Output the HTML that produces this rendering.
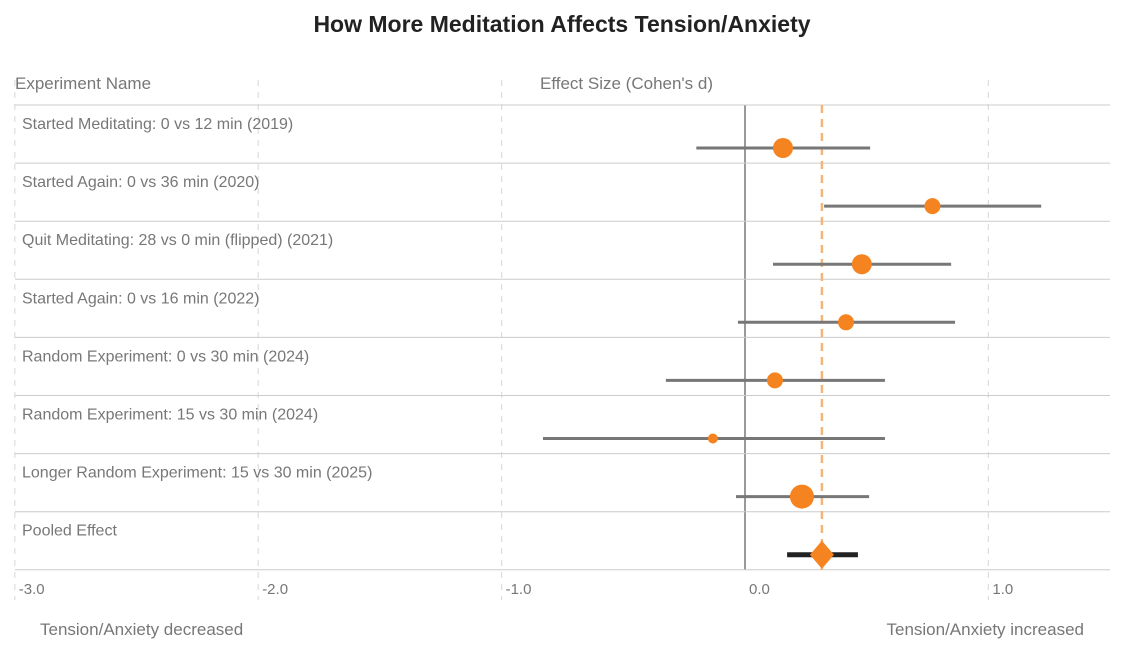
<!DOCTYPE html>
<html><head><meta charset="utf-8"><style>
body{margin:0;background:#fff;font-family:"Liberation Sans",sans-serif;}
svg text{font-family:"Liberation Sans",sans-serif;}
</style></head><body>
<svg id="chart" width="1122" height="650" xmlns="http://www.w3.org/2000/svg">
<text x="562" y="32" text-anchor="middle" font-size="23" font-weight="bold" fill="#222">How More Meditation Affects Tension/Anxiety</text>
<text x="15" y="89" font-size="17" fill="#777">Experiment Name</text>
<text x="540" y="89" font-size="17" fill="#777">Effect Size (Cohen's d)</text>
<text x="40" y="635" font-size="17" fill="#777">Tension/Anxiety decreased</text>
<text x="1084" y="635" text-anchor="end" font-size="17" fill="#777">Tension/Anxiety increased</text>
<g id="grid"></g><g id="rows"></g><g id="marks"></g>
</svg>
<script>
const names=["Started Meditating: 0 vs 12 min (2019)","Started Again: 0 vs 36 min (2020)","Quit Meditating: 28 vs 0 min (flipped) (2021)","Started Again: 0 vs 16 min (2022)","Random Experiment: 0 vs 30 min (2024)","Random Experiment: 15 vs 30 min (2024)","Longer Random Experiment: 15 vs 30 min (2025)","Pooled Effect"];
const effects=[0.156,0.77,0.48,0.415,0.123,-0.132,0.234,0.316];
const lower=[-0.2,0.325,0.115,-0.029,-0.325,-0.83,-0.037,0.173];
const upper=[0.514,1.217,0.847,0.863,0.575,0.575,0.51,0.464];
const weights=[10,8,10,8,8,5,12,12];
const ticks=[-3,-2,-1,0,1];
const tickLabels=["-3.0","-2.0","-1.0","0.0","1.0"];
const pooled=0.316;
const NS="http://www.w3.org/2000/svg";
const x=v=>745+v*243.4;
const rowTop=i=>105+i*58.1;
function mk(tag,attrs,parent){const e=document.createElementNS(NS,tag);for(const k in attrs)e.setAttribute(k,attrs[k]);document.getElementById(parent).appendChild(e);return e;}
ticks.forEach((t,i)=>{
 let l=mk("line",{x1:x(t),x2:x(t),y1:80,y2:600,stroke:t===0?"#999":"#ddd","stroke-width":t===0?2:1.2,"stroke-dasharray":t===0?"":"6,6"},"grid");
 
 
 if(t===0){l.setAttribute("y1",105);l.setAttribute("y2",570);}
 let tx=mk("text",{x:x(t)+4,y:594,"font-size":15,fill:"#777"},"grid");tx.textContent=tickLabels[i];
 
 
});
for(let i=0;i<=names.length;i++){
 let l=mk("line",{x1:15,x2:1110,y1:rowTop(i),y2:rowTop(i),stroke:"#ccc","stroke-width":1},"rows");
 
 
}
names.forEach((n,i)=>{
 let t=mk("text",{x:22,y:rowTop(i)+24,"font-size":16,fill:"#777"},"rows");t.textContent=n;
 
 
});
let pl=mk("line",{x1:x(pooled),x2:x(pooled),y1:105,y2:570,stroke:"#f5b57a","stroke-width":2.5,"stroke-dasharray":"8,6"},"marks");


effects.forEach((e,i)=>{
 const cy=rowTop(i)+43, last=i===names.length-1;
 let ci=mk("line",{x1:x(lower[i]),x2:x(upper[i]),y1:cy,y2:cy,stroke:last?"#222":"#777","stroke-width":last?5:3},"marks");
 
 
 let m;
 if(last){const cx=x(e),r=weights[i];m=mk("polygon",{points:`${cx},${cy-r-2} ${cx+r},${cy} ${cx},${cy+r+2} ${cx-r},${cy}`,fill:"#f5831f"},"marks");
  }
 else{m=mk("circle",{cx:x(e),cy:cy,r:weights[i],fill:"#f5831f"},"marks");
  }
 
});
</script>
</body></html>
